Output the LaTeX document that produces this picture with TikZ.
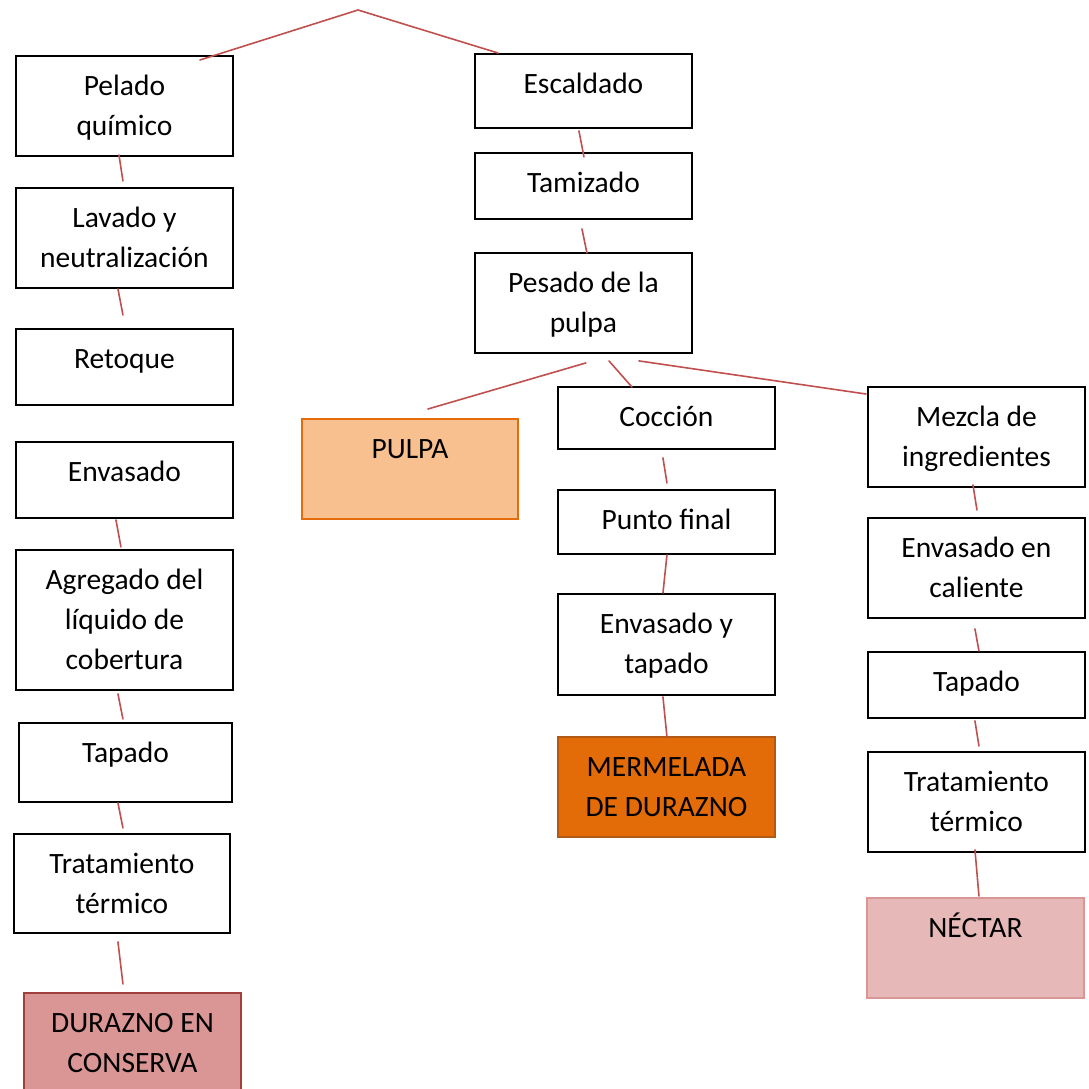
\documentclass[tikz,border=0pt]{standalone}
\usepackage{fontspec}
\setmainfont{Carlito}
\definecolor{linkred}{HTML}{C0504D}
\definecolor{pulpafill}{HTML}{F9C08F}
\definecolor{pulpaline}{HTML}{E46C0A}
\definecolor{mermfill}{HTML}{E36C09}
\definecolor{mermline}{HTML}{B25A14}
\definecolor{consfill}{HTML}{D99694}
\definecolor{consline}{HTML}{A0403D}
\definecolor{nectfill}{HTML}{E6B9B8}
\definecolor{nectline}{HTML}{DA9694}
\newcommand{\caja}[3]{\parbox[t][#1pt][t]{#2pt}{\centering\rule{0pt}{40pt}#3}}
\tikzset{
  paso/.style={draw=black, line width=1.9pt, inner sep=0pt, anchor=north west, fill=white},
  enlace/.style={draw=linkred, line width=1.6pt},
}
\begin{document}
\begin{tikzpicture}[x=1pt, y=-1pt, line cap=round, every node/.style={font=\fontsize{29.5}{40}\selectfont}]
            \useasboundingbox (0,0) rectangle (1089,1088);
            % durazno en conserva
            \node[paso] (pelado) at (15,55) {\caja{100}{217}{Pelado\\químico}};
            \node[paso] (lavado) at (15,187) {\caja{100}{217}{Lavado y\\neutralización}};
            \node[paso] (retoque) at (15,328) {\caja{76}{217}{Retoque}};
            \node[paso] (envasado) at (15,441) {\caja{76}{217}{Envasado}};
            \node[paso] (agregado) at (15,549) {\caja{140}{217}{Agregado del\\líquido de\\cobertura}};
            \node[paso] (tapadoA) at (18,722) {\caja{79}{213}{Tapado}};
            \node[paso] (tratA) at (13,833) {\caja{99}{216}{Tratamiento\\térmico}};
            \node[paso, fill=consfill, draw=consline] (conserva) at (23,992) {\caja{100}{217}{DURAZNO EN\\CONSERVA}};
            % pulpa
            \node[paso] (escaldado) at (474,53) {\caja{74}{217}{Escaldado}};
            \node[paso] (tamizado) at (474,152) {\caja{66}{217}{Tamizado}};
            \node[paso] (pesado) at (474,252) {\caja{100}{217}{Pesado de la\\pulpa}};
            \node[paso, fill=pulpafill, draw=pulpaline] (pulpa) at (301,418) {\caja{100}{216}{PULPA}};
            % mermelada
            \node[paso] (coccion) at (557,386) {\caja{62}{217}{Cocción}};
            \node[paso] (punto) at (557,489) {\caja{64}{217}{Punto final}};
            \node[paso] (envtap) at (557,593) {\caja{101}{217}{Envasado y\\tapado}};
            \node[paso, fill=mermfill, draw=mermline] (mermelada) at (557,736) {\caja{100}{217}{MERMELADA\\DE DURAZNO}};
            % nectar
            \node[paso] (mezcla) at (867,386) {\caja{100}{217}{Mezcla de\\ingredientes}};
            \node[paso] (envcal) at (867,517) {\caja{100}{217}{Envasado en\\caliente}};
            \node[paso] (tapadoB) at (867,651) {\caja{66}{217}{Tapado}};
            \node[paso] (tratB) at (867,751) {\caja{100}{217}{Tratamiento\\térmico}};
            \node[paso, fill=nectfill, draw=nectline] (nectar) at (866,897) {\caja{100}{217}{NÉCTAR}};

            \coordinate (raiz) at (358,10);
            \draw[enlace] ([xshift=-34pt,yshift=-5pt]pelado.north east) -- (raiz) -- ([xshift=24pt]escaldado.north west);
            \draw[enlace] ([xshift=-5.5pt,yshift=2pt]pelado.south) -- ([xshift=-1.5pt,yshift=6pt]lavado.north);
            \draw[enlace] ([xshift=-6.5pt]lavado.south) -- ([xshift=-1.5pt,yshift=13pt]retoque.north);
            \draw[enlace] ([xshift=-8.5pt,yshift=-1pt]envasado.south) -- ([xshift=-3.5pt,yshift=2pt]agregado.north);
            \draw[enlace] ([xshift=-6.5pt,yshift=-3pt]agregado.south) -- ([xshift=-2.5pt,yshift=3pt]tapadoA.north);
            \draw[enlace] ([xshift=-7.5pt]tapadoA.south) -- ([xshift=1pt,yshift=5pt]tratA.north);
            \draw[enlace] ([xshift=-4pt,yshift=-8pt]tratA.south) -- ([xshift=-9.5pt,yshift=8pt]conserva.north);
            \draw[enlace] ([xshift=-4.5pt,yshift=-2pt]escaldado.south) -- ([xshift=0.5pt,yshift=-5pt]tamizado.north);
            \draw[enlace] ([xshift=-1.5pt,yshift=-9pt]tamizado.south) -- ([xshift=3.5pt,yshift=-1pt]pesado.north);
            \draw[enlace] ([xshift=2.5pt,yshift=-9pt]pesado.south) -- ([xshift=18pt,yshift=9pt]pulpa.north);
            \draw[enlace] ([xshift=25.5pt,yshift=-7pt]pesado.south) -- ([xshift=-34.5pt,yshift=-1pt]coccion.north);
            \draw[enlace] ([xshift=55.5pt,yshift=-7pt]pesado.south) -- ([xshift=-1pt,yshift=-8pt]mezcla.north west);
            \draw[enlace] ([xshift=-3.5pt,yshift=-8pt]coccion.south) -- ([xshift=0.5pt,yshift=6pt]punto.north);
            \draw[enlace] ([xshift=0.5pt]punto.south) -- ([xshift=-3.5pt]envtap.north);
            \draw[enlace] ([xshift=-3.5pt,yshift=-1pt]envtap.south) -- ([xshift=0.5pt,yshift=-1pt]mermelada.north);
            \draw[enlace] ([xshift=-3.5pt,yshift=3pt]mezcla.south) -- ([xshift=0.5pt,yshift=7pt]envcal.north);
            \draw[enlace] ([xshift=-1.5pt,yshift=-10pt]envcal.south) -- ([xshift=2.5pt]tapadoB.north);
            \draw[enlace] ([xshift=-1.5pt,yshift=-2pt]tapadoB.south) -- ([xshift=2.5pt,yshift=5pt]tratB.north);
            \draw[enlace] ([xshift=-1.5pt,yshift=3pt]tratB.south) -- ([xshift=3.5pt,yshift=1pt]nectar.north);
\end{tikzpicture}
\end{document}
